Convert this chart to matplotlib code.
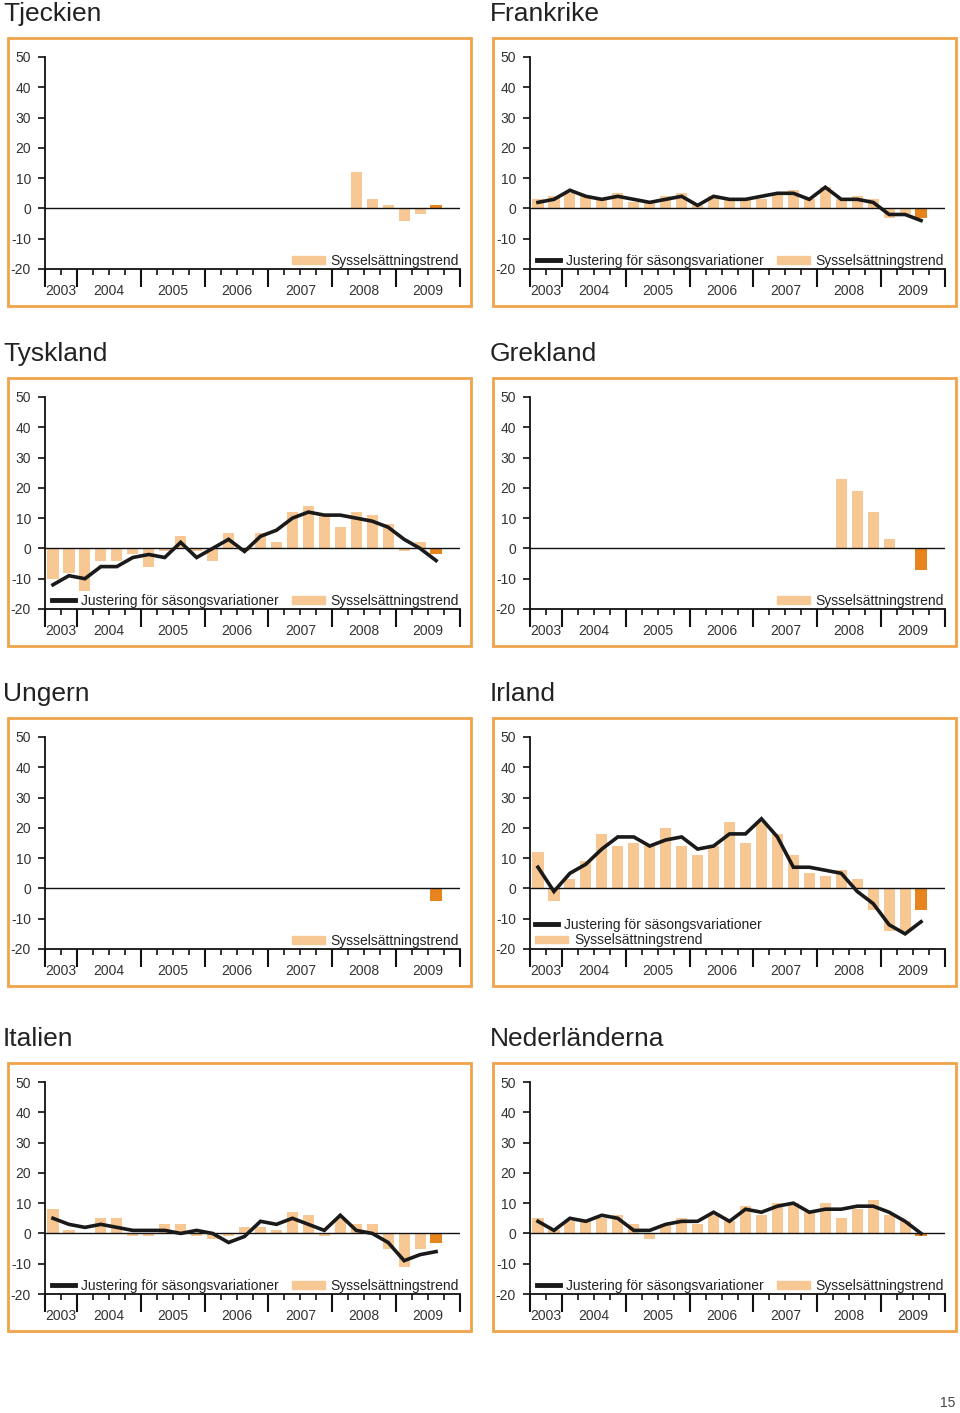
import matplotlib.pyplot as plt
import matplotlib.patches as mpatches
from matplotlib.lines import Line2D
import numpy as np

plt.rcParams['font.family'] = ['Liberation Sans', 'DejaVu Sans']
plt.rcParams['axes.unicode_minus'] = False

# kvartal 2003K3 .. 2009K3 (25 st), axeln går till 2009K4
years = ['2003', '2004', '2005', '2006', '2007', '2008', '2009']
year_bounds = [0, 2, 6, 10, 14, 18, 22, 26]
n_quarters = 26

N = None
# Sysselsättningstrend (staplar), sista värdet = senaste kvartalet
tjeckien_bar = [N, N, N, N, N, N, N, N, N, N, N, N, N, N, N, N, N, N, N, 12, 3, 1, -4, -2, 1]
frankrike_bar = [3, 4, 5, 4, 3, 5, 2, 2, 4, 5, 1, 4, 3, 3, 3, 5, 6, 3, 7, 3, 4, 3, -3, -2, -3]
frankrike_line = [2, 3, 6, 4, 3, 4, 3, 2, 3, 4, 1, 4, 3, 3, 4, 5, 5, 3, 7, 3, 3, 2, -2, -2, -4]
tyskland_bar = [-10, -8, -14, -4, -4, -2, -6, -1, 4, -1, -4, 5, -1, 5, 2, 12, 14, 11, 7, 12, 11, 8, -1, 2, -2]
tyskland_line = [-12, -9, -10, -6, -6, -3, -2, -3, 2, -3, 0, 3, -1, 4, 6, 10, 12, 11, 11, 10, 9, 7, 3, 0, -4]
grekland_bar = [N, N, N, N, N, N, N, N, N, N, N, N, N, N, N, N, N, N, N, 23, 19, 12, 3, N, -7]
ungern_bar = [N, N, N, N, N, N, N, N, N, N, N, N, N, N, N, N, N, N, N, N, N, N, N, N, -4]
irland_bar = [12, -4, 3, 9, 18, 14, 15, 14, 20, 14, 11, 14, 22, 15, 22, 18, 11, 5, 4, 6, 3, -7, -14, -14, -7]
irland_line = [7, -1, 5, 8, 13, 17, 17, 14, 16, 17, 13, 14, 18, 18, 23, 17, 7, 7, 6, 5, -1, -5, -12, -15, -11]
italien_bar = [8, 1, 0, 5, 5, -1, -1, 3, 3, -1, -2, -1, 2, 2, 1, 7, 6, -1, 5, 3, 3, -5, -11, -5, -3]
italien_line = [5, 3, 2, 3, 2, 1, 1, 1, 0, 1, 0, -3, -1, 4, 3, 5, 3, 1, 6, 1, 0, -3, -9, -7, -6]
nederlanderna_bar = [5, 1, 4, 4, 5, 6, 3, -2, 3, 5, 3, 6, 4, 9, 6, 10, 10, 7, 10, 5, 8, 11, 6, 4, -1]
nederlanderna_line = [4, 1, 5, 4, 6, 5, 1, 1, 3, 4, 4, 7, 4, 8, 7, 9, 10, 7, 8, 8, 9, 9, 7, 4, 0]

panels = [
    ('Tjeckien', tjeckien_bar, None),
    ('Frankrike', frankrike_bar, frankrike_line),
    ('Tyskland', tyskland_bar, tyskland_line),
    ('Grekland', grekland_bar, None),
    ('Ungern', ungern_bar, None),
    ('Irland', irland_bar, irland_line),
    ('Italien', italien_bar, italien_line),
    ('Nederländerna', nederlanderna_bar, nederlanderna_line),
]

light = '#F8C894'
dark = '#E8841E'
border = '#F0A44A'
txt = '#333333'

W, H = 960, 1413
fig = plt.figure(figsize=(W / 100, H / 100), dpi=100)

col_left = [45, 530]
row_top = [57, 397, 737, 1082]
ax_w, ax_h = 415, 212

for k, (name, bars, line) in enumerate(panels):
    r, c = divmod(k, 2)
    x0 = col_left[c]
    y0 = row_top[r]
    ax = fig.add_axes([x0 / W, 1 - (y0 + ax_h) / H, ax_w / W, ax_h / H])

    # ram och rubrik
    bx = [8, 493][c]
    box = mpatches.Rectangle((bx / W, 1 - (y0 + 249) / H), 463 / W, 268 / H,
                             transform=fig.transFigure, fill=False,
                             edgecolor=border, linewidth=2)
    fig.add_artist(box)
    fig.text([3, 490][c] / W, 1 - (y0 - 36) / H, name, fontsize=19,
             color='#222222', ha='left', va='baseline')

    vals = np.array([np.nan if v is None else v for v in bars], dtype=float)
    xs = np.arange(len(vals)) + 0.5
    colors = [light] * (len(vals) - 1) + [dark]
    ax.bar(xs, np.nan_to_num(vals), width=0.7, color=colors, zorder=1)
    ax.axhline(0, color='#111111', linewidth=1.0, zorder=2)
    if line is not None:
        ax.plot(xs, line, color='#1a1a1a', linewidth=2.6, zorder=3,
                solid_joinstyle='miter')

    ax.set_xlim(0, n_quarters)
    ax.set_ylim(-20, 50)
    for s in ['top', 'right']:
        ax.spines[s].set_visible(False)
    for s in ['left', 'bottom']:
        ax.spines[s].set_linewidth(1.3)
        ax.spines[s].set_color('#111111')

    ax.set_yticks(range(-20, 51, 10))
    ax.tick_params(axis='y', length=5, width=1.2, pad=5, labelsize=10,
                   labelcolor=txt, color='#111111')
    ax.set_xticks(year_bounds)
    ax.set_xticklabels([])
    ax.set_xticks(np.arange(n_quarters + 1), minor=True)
    ax.tick_params(axis='x', which='major', length=13, width=1.5, color='#111111')
    ax.tick_params(axis='x', which='minor', length=4, width=1.2, color='#111111')

    sec = ax.secondary_xaxis('bottom')
    centers = [(a + b) / 2 for a, b in zip(year_bounds[:-1], year_bounds[1:])]
    sec.set_xticks(centers)
    sec.set_xticklabels(years)
    sec.tick_params(length=0, pad=11, labelsize=10, labelcolor=txt)
    sec.spines['bottom'].set_visible(False)

    bar_handle = mpatches.Patch(color=light)
    line_handle = Line2D([], [], color='#1a1a1a', linewidth=3.5)
    if name == 'Irland':
        lg1 = ax.legend([line_handle], ['Justering för säsongsvariationer'],
                        loc='lower left', bbox_to_anchor=(0.012, 0.08),
                        frameon=False, fontsize=10, handlelength=1.65,
                        handletextpad=0.45, borderpad=0, borderaxespad=0,
                        labelcolor='#222222')
        ax.add_artist(lg1)
        ax.legend([bar_handle], ['Sysselsättningstrend'],
                  loc='lower left', bbox_to_anchor=(0.012, 0.008),
                  frameon=False, fontsize=10, handlelength=2.35,
                  handleheight=0.45, handletextpad=0.45, borderpad=0,
                  borderaxespad=0, labelcolor='#222222')
    else:
        if line is not None:
            lg1 = ax.legend([line_handle], ['Justering för säsongsvariationer'],
                            loc='lower left', bbox_to_anchor=(0.017, 0.006),
                            frameon=False, fontsize=10, handlelength=1.65,
                            handletextpad=0.45, borderpad=0, borderaxespad=0,
                            labelcolor='#222222')
            ax.add_artist(lg1)
        ax.legend([bar_handle], ['Sysselsättningstrend'],
                  loc='lower right', bbox_to_anchor=(0.998, 0.006),
                  frameon=False, fontsize=10, handlelength=2.35,
                  handleheight=0.45, handletextpad=0.45, borderpad=0,
                  borderaxespad=0, labelcolor='#222222')

fig.text(948 / W, 1 - 1403 / H, '15', fontsize=10, color='#444444',
         ha='center', va='center')

fig.savefig('out.png', dpi=100)
